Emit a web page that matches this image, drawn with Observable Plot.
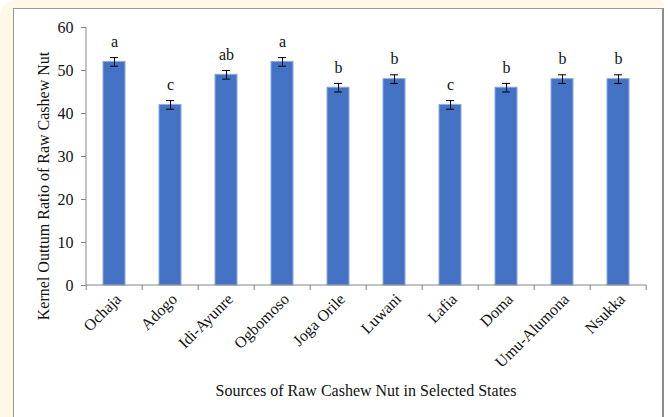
<!DOCTYPE html>
<html>
<head>
<meta charset="utf-8">
<script src="https://cdn.jsdelivr.net/npm/d3@7"></script>
<script src="https://cdn.jsdelivr.net/npm/@observablehq/plot@0.6"></script>
<style>
  html, body { margin: 0; padding: 0; background: #ffffff; }
  #page { position: relative; width: 668px; height: 417px; overflow: hidden; font-family: "Liberation Serif", "Times New Roman", serif; }
  #cream { position: absolute; left: 0; top: 0; width: 664px; height: 440px; background: #fdf9e6; border-top-left-radius: 16px; border-top-right-radius: 6px; }
  #panel { position: absolute; left: 13px; top: 8px; width: 648px; height: 430px; background: #ffffff; border-left: 1px solid #9a9a9a; border-top: 1px solid #9a9a9a; border-right: 2px solid #8c8c8c; }
  #chart { position: absolute; left: 0; top: 0; }
  .title { position: absolute; font-size: 16px; color: #111; white-space: nowrap; }
  #ytitle { left: 44px; top: 186px; transform: translate(-50%, -50%) rotate(-90deg); }
  #xtitle { left: 366px; top: 391px; transform: translate(-50%, -50%); }
</style>
</head>
<body>
<div id="page">
  <div id="cream"></div>
  <div id="panel"></div>
  <div id="chart"></div>
  <div class="title" id="ytitle">Kernel Outtum Ratio of Raw Cashew Nut</div>
  <div class="title" id="xtitle">Sources of Raw Cashew Nut in Selected States</div>
</div>
<script>
// Kernel outturn ratio by source, with standard error and significance letters
const sources = ["Ochaja", "Adogo", "Idi-Ayunre", "Ogbomoso", "Joga Orile", "Luwani", "Lafia", "Doma", "Umu-Alumona", "Nsukka"];
const kor = [52, 42, 49, 52, 46, 48, 42, 46, 48, 48];
const stdErr = [1, 1, 1, 1, 1, 1, 1, 1, 1, 1];
const groups = ["a", "c", "ab", "a", "b", "b", "c", "b", "b", "b"];
const yTicks = [0, 10, 20, 30, 40, 50, 60];

const rows = sources.map((s, i) => ({source: s, value: kor[i], err: stdErr[i], group: groups[i]}));

const axisColor = "#868686";
const innerPad = 0.6;

// Axis lines and category boundary ticks, positioned from the scales
function axesFrame(index, scales, values, dimensions) {
  const x = scales.x, y = scales.y;
  const step = x(sources[1]) - x(sources[0]);
  const bw = step * (1 - innerPad);
  const half = (step - bw) / 2;
  const g = d3.create("svg:g").attr("stroke", axisColor).attr("fill", "none");
  const x0 = dimensions.marginLeft;
  const yb = y(0);
  g.append("line").attr("x1", x0).attr("x2", x0).attr("y1", y(60)).attr("y2", yb);
  const bounds = sources.map(s => x(s) - half);
  bounds.push(x(sources[sources.length - 1]) + bw + half);
  for (const b of bounds) {
    g.append("line").attr("x1", b).attr("x2", b).attr("y1", yb).attr("y2", yb + 5);
  }
  g.append("line").attr("x1", bounds[0]).attr("x2", bounds[bounds.length - 1]).attr("y1", yb).attr("y2", yb);
  return g.node();
}

const chart = Plot.plot({
  width: 668,
  height: 417,
  marginLeft: 86,
  marginRight: 22,
  marginTop: 27,
  marginBottom: 132,
  style: {background: "transparent", fontFamily: "'Liberation Serif', 'Times New Roman', serif", fontSize: "16px", color: "#111"},
  x: {domain: sources, paddingInner: innerPad, paddingOuter: 0.3, label: null},
  y: {domain: [0, 60], label: null},
  marks: [
    Plot.barY(rows, {x: "source", y: "value", fill: "#4472c4", stroke: "#8faadc", strokeWidth: 1}),
    Plot.ruleX(rows, {x: "source", y1: d => d.value - d.err, y2: d => d.value + d.err, stroke: "#000", strokeWidth: 1}),
    Plot.tickY(rows, {x: "source", y: d => d.value + d.err, stroke: "#000", strokeWidth: 1, insetLeft: 7, insetRight: 7}),
    Plot.tickY(rows, {x: "source", y: d => d.value - d.err, stroke: "#000", strokeWidth: 1, insetLeft: 7, insetRight: 7}),
    Plot.text(rows, {x: "source", y: d => d.value + d.err, text: "group", dy: -16, fontSize: 16, fill: "#111"}),
    Plot.axisY({ticks: yTicks, tickSize: 5, tickPadding: 8, stroke: axisColor, fontSize: 16, label: null}),
    Plot.axisX({tickSize: 0, tickPadding: 11, dx: 4, tickRotate: -45, fontSize: 16, label: null}),
    axesFrame
  ]
});

document.getElementById("chart").appendChild(chart);
</script>
</body>
</html>
